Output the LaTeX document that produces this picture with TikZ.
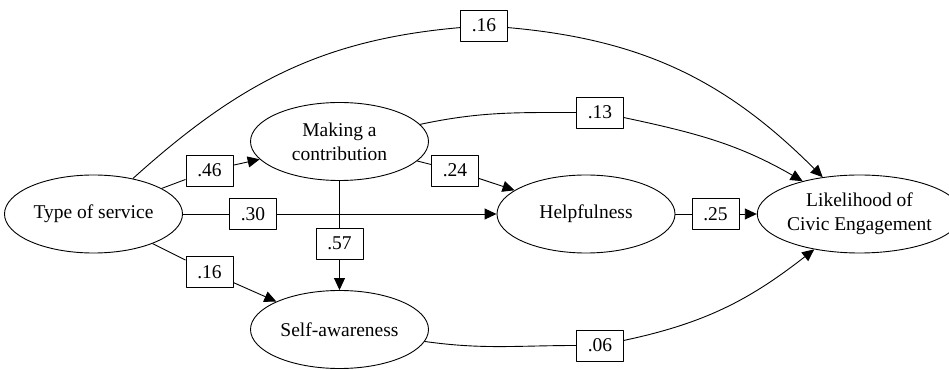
\documentclass[tikz,border=0pt]{standalone}
\usepackage{fontspec}
\setmainfont{Liberation Serif}
\usetikzlibrary{arrows.meta,shapes.geometric}
\begin{document}
\begin{tikzpicture}[x=1pt, y=1pt, line join=round, line width=0.9pt, >={Triangle[length=12pt, width=11pt]},
	font=\fontsize{19.5}{24}\selectfont,
	var/.style={draw, ellipse, minimum width=178pt, minimum height=78pt, inner sep=0pt, align=center},
	coef/.style={draw, rectangle, minimum width=47pt, minimum height=31pt, inner sep=0pt}]
	\useasboundingbox (0,0) rectangle (949,369);
	%
	\node [var] (type) at (93.5,155) {Type of service};
	\node [var] (make) at (339.5,227.5) {Making a\\contribution};
	\node [var] (self) at (339.5,39.5) {Self-awareness};
	\node [var] (help) at (586,155) {Helpfulness};
	\node [var] (like) at (859.5,155) {Likelihood of\\Civic Engagement};
	%
	\node [coef] (c46) at (209.5,198.5) {.46};
	\node [coef] (c30) at (253,155) {.30};
	\node [coef] (c57) at (339.5,125.5) {.57};
	\node [coef] (c16b) at (209.5,97) {.16};
	\node [coef] (c24) at (455,198.5) {.24};
	\node [coef] (c16t) at (484,343.5) {.16};
	\node [coef] (c13) at (600,256.5) {.13};
	\node [coef] (c25) at (715.5,155) {.25};
	\node [coef] (c06) at (600,23.5) {.06};
	%
	\draw (type) -- (c46); \draw [->] (c46) -- (make);
	\draw (type) -- (c30); \draw [->] (c30) -- (help);
	\draw (type) -- (c16b); \draw [->] (c16b) -- (self);
	\draw (make) -- (c57); \draw [->] (c57) -- (self);
	\draw (make) -- (c24); \draw [->] (c24) -- (help);
	\draw (help) -- (c25); \draw [->] (c25) -- (like);
	\draw (type) to [out=42, in=185] (c16t); \draw [->] (c16t) to [out=-5, in=135] (like);
	\draw (make) to [out=12, in=180] (c13); \draw [->] (c13) to [out=-12, in=150] (like);
	\draw (self) to [out=-8, in=180] (c06); \draw [->] (c06) to [out=12, in=218] (like);
\end{tikzpicture}
\end{document}
